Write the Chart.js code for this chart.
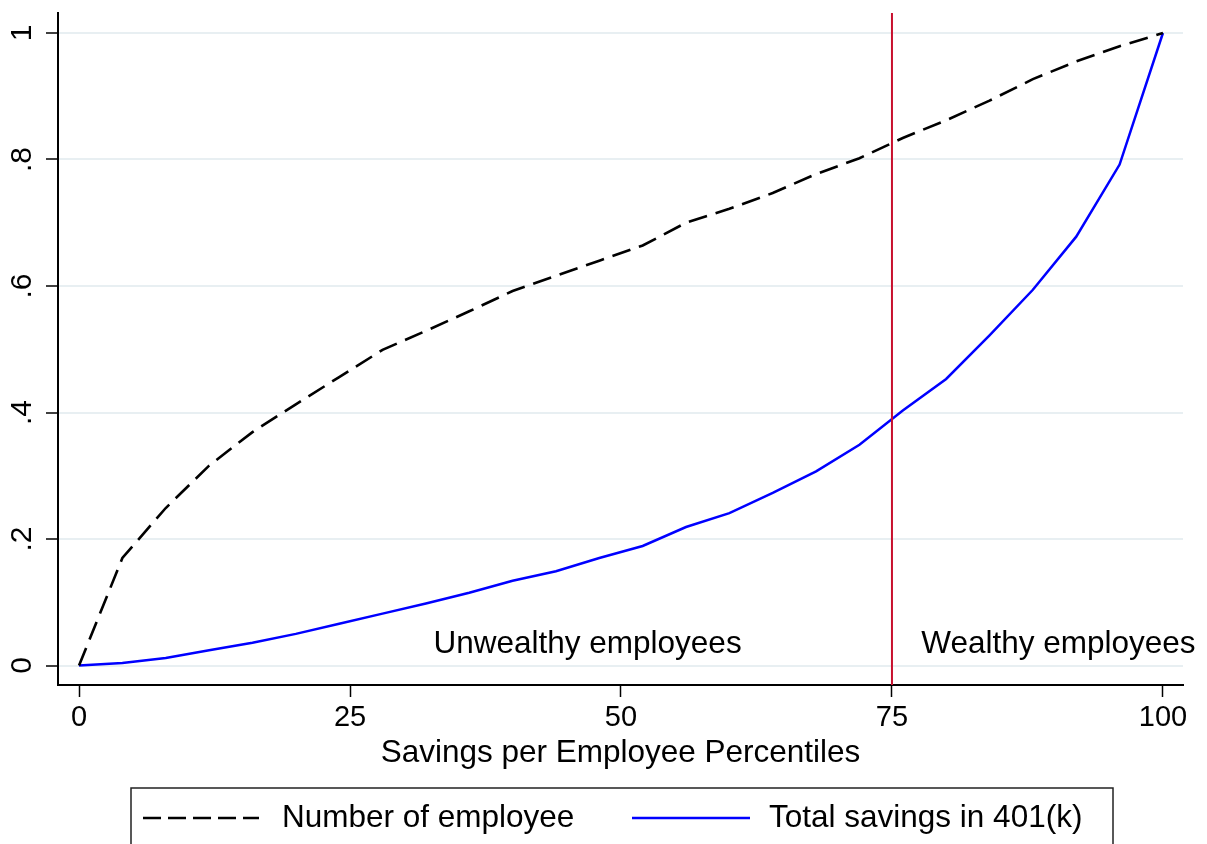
<!DOCTYPE html>
<html>
<head>
<meta charset="utf-8">
<script src="https://cdn.jsdelivr.net/npm/chart.js@4/dist/chart.umd.min.js"></script>
<style>
  html, body { margin: 0; padding: 0; background: #ffffff; }
  #wrap { width: 1207px; height: 844px; }
</style>
</head>
<body>
<div id="wrap"><canvas id="chart" width="1207" height="844"></canvas></div>
<script>
// Cumulative shares by savings-per-employee percentile
const percentiles = [0, 4, 8, 12, 16, 20, 24, 28, 32, 36, 40, 44, 48, 52, 56, 60, 64, 68, 72, 76, 80, 84, 88, 92, 96, 100];
const employeeShare = [0, 0.170, 0.249, 0.316, 0.369, 0.413, 0.456, 0.499, 0.529, 0.560, 0.592, 0.616, 0.640, 0.664, 0.700, 0.722, 0.747, 0.777, 0.802, 0.834, 0.862, 0.893, 0.927, 0.955, 0.979, 1];
const savingsShare = [0, 0.004, 0.012, 0.024, 0.036, 0.050, 0.066, 0.082, 0.098, 0.115, 0.134, 0.149, 0.170, 0.189, 0.219, 0.241, 0.273, 0.307, 0.349, 0.403, 0.453, 0.522, 0.594, 0.678, 0.792, 1];

const seriesLabels = ['Number of employee', 'Total savings in 401(k)'];
const xTickValues = [0, 25, 50, 75, 100];
const yTickValues = [0, 0.2, 0.4, 0.6, 0.8, 1];
const xAxisTitle = 'Savings per Employee Percentiles';

// Split between the two employee groups, and the group captions
const cutoffPercentile = 75;
const groupLabels = ['Unwealthy employees', 'Wealthy employees'];
const groupLabelX = [32.7, 77.7];
const groupLabelY = 0.02;

const FONT = "'Liberation Sans', Arial, Helvetica, sans-serif";
const TEXT_SIZE = 31.5;
Chart.defaults.font.family = FONT;
Chart.defaults.color = '#000';

const toPoints = (ys) => percentiles.map((p, i) => ({ x: p, y: ys[i] }));

// Vertical cut-off line and the two group captions
const groupPlugin = {
  id: 'groups',
  afterDatasetsDraw(chart) {
    const { ctx, chartArea, scales } = chart;
    const px = scales.x.getPixelForValue(cutoffPercentile);
    ctx.save();
    ctx.strokeStyle = '#c8102e';
    ctx.lineWidth = 2;
    ctx.beginPath();
    ctx.moveTo(px, chartArea.top);
    ctx.lineTo(px, chartArea.bottom);
    ctx.stroke();

    ctx.fillStyle = '#000';
    ctx.font = TEXT_SIZE + 'px ' + FONT;
    ctx.textAlign = 'left';
    ctx.textBaseline = 'alphabetic';
    groupLabels.forEach((t, i) => {
      ctx.fillText(t, scales.x.getPixelForValue(groupLabelX[i]), scales.y.getPixelForValue(groupLabelY));
    });
    ctx.restore();
  }
};

// Boxed legend below the axis title
const boxedLegend = {
  id: 'boxedLegend',
  afterDraw(chart) {
    const { ctx } = chart;
    const box = { left: 131, top: 788, right: 1113, bottom: 850 };
    const lineY = 818;
    const textY = 827;
    const entries = [
      { x0: 143, x1: 259, tx: 282 },
      { x0: 632, x1: 750, tx: 769 }
    ];
    ctx.save();
    ctx.strokeStyle = '#222';
    ctx.lineWidth = 1.5;
    ctx.strokeRect(box.left, box.top, box.right - box.left, box.bottom - box.top);
    chart.data.datasets.forEach((ds, i) => {
      const e = entries[i];
      ctx.strokeStyle = ds.borderColor;
      ctx.lineWidth = ds.borderWidth;
      ctx.setLineDash(ds.legendDash || []);
      ctx.beginPath();
      ctx.moveTo(e.x0, lineY);
      ctx.lineTo(e.x1, lineY);
      ctx.stroke();
      ctx.setLineDash([]);
      ctx.fillStyle = '#000';
      ctx.font = TEXT_SIZE + 'px ' + FONT;
      ctx.textAlign = 'left';
      ctx.textBaseline = 'alphabetic';
      ctx.fillText(ds.label, e.tx, textY);
    });
    ctx.restore();
  }
};

const fmtY = (v) => {
  const r = Number(v.toFixed(1));
  if (r === 0) return '0';
  if (r === 1) return '1';
  return String(r).replace(/^0/, '');
};

new Chart(document.getElementById('chart'), {
  type: 'line',
  data: {
    datasets: [
      {
        label: seriesLabels[0],
        data: toPoints(employeeShare),
        borderColor: '#000000',
        borderWidth: 2.6,
        borderDash: [19, 9],
        legendDash: [18, 7],
        pointRadius: 0,
        fill: false,
        tension: 0
      },
      {
        label: seriesLabels[1],
        data: toPoints(savingsShare),
        borderColor: '#0000ff',
        borderWidth: 2.5,
        pointRadius: 0,
        fill: false,
        tension: 0
      }
    ]
  },
  options: {
    responsive: false,
    animation: false,
    devicePixelRatio: 1,
    layout: { padding: { top: 13, right: 24, bottom: 72, left: 0 } },
    plugins: {
      legend: { display: false },
      tooltip: { enabled: false }
    },
    scales: {
      x: {
        type: 'linear',
        min: -1.94,
        max: 101.85,
        afterBuildTicks: (s) => { s.ticks = xTickValues.map(v => ({ value: v })); },
        afterFit: (s) => { s.height = 87; s.paddingLeft = 0; s.paddingRight = 0; },
        border: { display: true, color: '#000', width: 2 },
        grid: { display: true, drawOnChartArea: false, drawTicks: true, tickLength: 12, tickColor: '#000', tickWidth: 1.5 },
        ticks: { font: { size: 29 }, padding: 4, maxRotation: 0, autoSkip: false, callback: (v) => String(v) },
        title: { display: true, text: xAxisTitle, font: { size: TEXT_SIZE, lineHeight: 1.2 }, padding: { top: 0, bottom: 0 } }
      },
      y: {
        type: 'linear',
        min: -0.0308,
        max: 1.0316,
        afterBuildTicks: (s) => { s.ticks = yTickValues.map(v => ({ value: v })); },
        afterFit: (s) => { s.width = 58; s.paddingTop = 0; s.paddingBottom = 0; },
        border: { display: true, color: '#000', width: 2 },
        grid: { display: true, color: '#e8eff2', lineWidth: 2, drawTicks: true, tickLength: 12, tickColor: '#000', tickWidth: 1.5 },
        ticks: { font: { size: 30 }, padding: 11, minRotation: 90, maxRotation: 90, crossAlign: 'center', autoSkip: false, callback: fmtY }
      }
    }
  },
  plugins: [groupPlugin, boxedLegend]
});
</script>
</body>
</html>
